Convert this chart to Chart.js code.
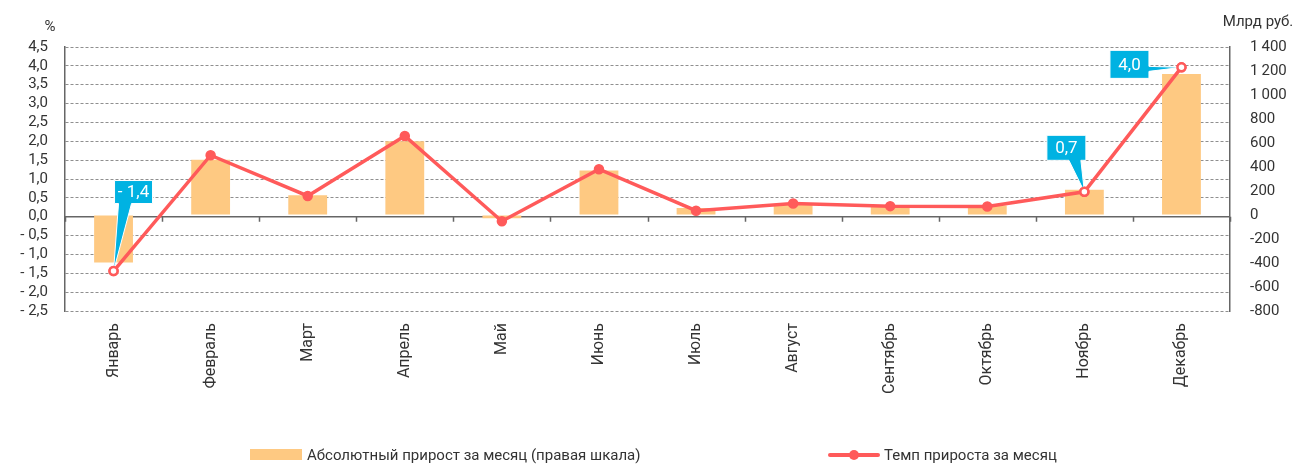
<!DOCTYPE html>
<html><head><meta charset="utf-8">
<script src="https://cdn.jsdelivr.net/npm/chart.js@4/dist/chart.umd.min.js"></script>
<style>
html,body{margin:0;padding:0;background:#fff;}
#wrap{position:relative;width:1296px;height:466px;overflow:hidden;}
#c{position:absolute;left:0;top:0;}
.lt{position:absolute;font:15px Roboto,sans-serif;color:#333;white-space:nowrap;line-height:18px;}
.sw{position:absolute;}
</style></head><body>
<div id="wrap">
<canvas id="c" width="1296" height="466"></canvas>
<div class="sw" style="left:250px;top:449px;width:52px;height:11px;background:#FEC982;"></div>
<div class="lt" id="lg1" style="left:307px;top:446px;"></div>
<div class="sw" style="left:828px;top:453px;width:52px;height:4px;background:#FF5A5A;border-radius:2px;"></div>
<div class="sw" style="left:849px;top:450px;width:10px;height:10px;background:#FF5A5A;border-radius:50%;"></div>
<div class="lt" id="lg2" style="left:884px;top:446px;"></div>
</div>
<script>
const categories = ['Январь','Февраль','Март','Апрель','Май','Июнь','Июль','Август','Сентябрь','Октябрь','Ноябрь','Декабрь'];
const absGrowth = [-395, 460, 165, 615, -28, 370, 58, 90, 80, 80, 210, 1175];
const growthRate = [-1.44, 1.63, 0.55, 2.14, -0.12, 1.26, 0.16, 0.35, 0.28, 0.27, 0.66, 3.96];
const calloutIndex = [0, 10, 11];
const calloutText = ['- 1,4', '0,7', '4,0'];
const seriesNames = ['Абсолютный прирост за месяц (правая шкала)', 'Темп прироста за месяц'];
const leftTitle = '%';
const rightTitle = 'Млрд руб.';

document.getElementById('lg1').textContent = seriesNames[0];
document.getElementById('lg2').textContent = seriesNames[1];

const BAR = '#FEC982', LINE = '#FF5A5A', CALL = '#00B2E2', TXT = '#333333';
const FONT = 'Roboto, sans-serif';
// callout placement styles (offsets from the point, in px)
const calloutStyle = [
  {dx: 20, dy: -79, w: 38, h: 23, side: 'bottom', b: [4, 17]},
  {dx: -18, dy: -44, w: 39, h: 25, side: 'bottom', b: [22, 34]},
  {dx: -52, dy: -3, w: 39, h: 28, side: 'right', b: [16, 21]}
];

function fmtLeft(v){
  const s = Math.abs(v).toFixed(1).replace('.', ',');
  return v < -1e-9 ? '- ' + s : s;
}
function fmtRight(v){
  if (Math.abs(v) >= 1000) {
    const s = String(Math.abs(v));
    return (v<0?'-':'') + s.slice(0, s.length-3) + '\u2009' + s.slice(s.length-3);
  }
  return String(v);
}

const pointBg = growthRate.map((v,i)=> calloutIndex.includes(i) ? '#ffffff' : LINE);

const decor = {
  id: 'decor',
  beforeDatasetsDraw(chart){
    const {ctx, chartArea:a, scales} = chart;
    const y0 = scales.y.getPixelForValue(0);
    ctx.save();
    ctx.strokeStyle = '#666';
    ctx.lineWidth = 1.5;
    ctx.beginPath();
    ctx.moveTo(a.left, y0); ctx.lineTo(a.right, y0);
    const n = categories.length;
    const cw = (a.right - a.left) / n;
    for (let i = 0; i <= n; i++) {
      const x = Math.round(a.left + i*cw) + 0.5;
      ctx.moveTo(x, y0); ctx.lineTo(x, y0 + 5);
    }
    ctx.stroke();
    ctx.fillStyle = TXT;
    ctx.font = '15px ' + FONT;
    ctx.textAlign = 'center';
    ctx.textBaseline = 'middle';
    ctx.fillText(leftTitle, 50, 27);
    ctx.fillText(rightTitle, 1258, 22);
    ctx.restore();
  },
  afterDatasetsDraw(chart){
    const {ctx} = chart;
    const meta = chart.getDatasetMeta(1);
    ctx.save();
    calloutIndex.forEach((idx, k) => {
      const p = meta.data[idx];
      const st = calloutStyle[k];
      const cx = p.x + st.dx, cy = p.y + st.dy;
      const l = cx - st.w/2, t = cy - st.h/2, r = l + st.w, b = t + st.h;
      ctx.beginPath();
      if (st.side === 'bottom') {
        ctx.moveTo(l, t); ctx.lineTo(r, t); ctx.lineTo(r, b);
        ctx.lineTo(l + st.b[1], b); ctx.lineTo(p.x, p.y); ctx.lineTo(l + st.b[0], b);
        ctx.lineTo(l, b); ctx.closePath();
      } else {
        ctx.moveTo(l, t); ctx.lineTo(r, t); ctx.lineTo(r, t + st.b[0]);
        ctx.lineTo(p.x, p.y); ctx.lineTo(r, t + st.b[1]); ctx.lineTo(r, b);
        ctx.lineTo(l, b); ctx.closePath();
      }
      ctx.fillStyle = CALL;
      ctx.strokeStyle = '#ffffff';
      ctx.lineWidth = 1;
      ctx.fill(); ctx.stroke();
      ctx.fillStyle = '#ffffff';
      ctx.font = '17px ' + FONT;
      ctx.textAlign = 'center';
      ctx.textBaseline = 'middle';
      ctx.fillText(calloutText[k], cx, cy + 1);
      ctx.beginPath();
      ctx.arc(p.x, p.y, 4, 0, Math.PI*2);
      ctx.fillStyle = '#fff'; ctx.fill();
      ctx.lineWidth = 2.5; ctx.strokeStyle = LINE; ctx.stroke();
    });
    ctx.restore();
  }
};

new Chart(document.getElementById('c'), {
  data: {
    labels: categories,
    datasets: [
      {type: 'bar', label: seriesNames[0], data: absGrowth, yAxisID: 'y1',
       backgroundColor: BAR, barPercentage: 0.4, categoryPercentage: 1, order: 2},
      {type: 'line', label: seriesNames[1], data: growthRate, yAxisID: 'y',
       borderColor: LINE, borderWidth: 3.5, pointRadius: 4.5, pointBackgroundColor: pointBg,
       pointBorderColor: LINE, pointBorderWidth: 1.5, tension: 0, order: 1}
    ]
  },
  options: {
    responsive: false, animation: false, devicePixelRatio: 1,
    layout: {padding: {top: 47, left: 0, right: 0, bottom: 0}},
    plugins: {legend: {display: false}, tooltip: {enabled: false}},
    scales: {
      x: {
        type: 'category', offset: true,
        grid: {display: false}, border: {display: false},
        ticks: {minRotation: 90, maxRotation: 90, autoSkip: false, padding: 4,
                color: TXT, font: {family: FONT, size: 16}},
        afterFit: s => { s.height = 155; }
      },
      y: {
        position: 'left', min: -2.5, max: 4.5,
        ticks: {stepSize: 0.5, autoSkip: false, padding: 17, color: TXT, font: {family: FONT, size: 15},
                callback: v => fmtLeft(v)},
        grid: {drawTicks: false, lineWidth: 1,
               color: c => (c.tick && Math.abs(c.tick.value) < 1e-9) ? 'rgba(0,0,0,0)' : '#8f8f8f'},
        border: {display: true, color: '#666', width: 1.5, dash: [3, 2]},
        afterFit: s => { s.width = 65; }
      },
      y1: {
        position: 'right', min: -800, max: 1400,
        ticks: {stepSize: 200, autoSkip: false, padding: 20, color: TXT, font: {family: FONT, size: 15},
                callback: v => fmtRight(v)},
        grid: {drawOnChartArea: false, drawTicks: false},
        border: {display: true, color: '#666', width: 1.5},
        afterFit: s => { s.width = 66; }
      }
    }
  },
  plugins: [decor]
});
</script>
</body></html>
